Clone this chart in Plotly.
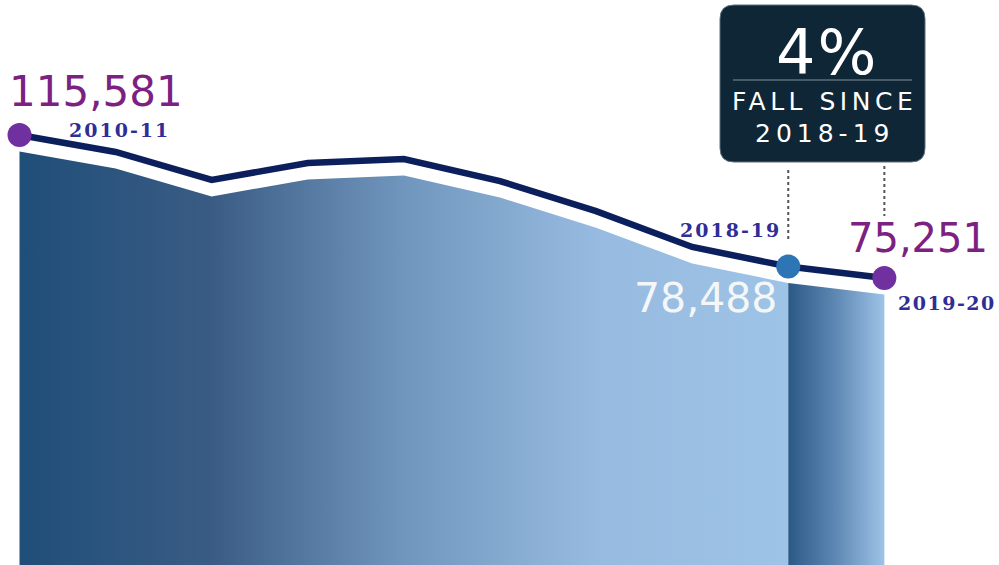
import plotly.graph_objects as go

years = ["2010-11", "2011-12", "2012-13", "2013-14", "2014-15",
         "2015-16", "2016-17", "2017-18", "2018-19", "2019-20"]
values = [115581, 110800, 102900, 107700, 108800,
          102600, 94100, 84000, 78488, 75251]
fall_pct = "4%"
fall_text = ["FALL SINCE", "2018-19"]

W, H = 999, 565
Y_TOP = 153651
Y_BOT = -5679
GAP = 4650          # white band between line and area (in value units)
BASE = -30000       # baseline below visible range

navy = "#0b1f5c"
purple = "#7b2182"
lblue = "#2e2e96"

def px(x):
    return x / W

def py(y):
    return 1 - y / H

fig = go.Figure()

# Main area (2010-11 .. 2018-19)
main_x = years[:9]
main_y = values[:9]
fig.add_trace(go.Scatter(x=main_x, y=[BASE] * len(main_x), mode="lines",
                         line=dict(width=0), yaxis="y2", hoverinfo="skip",
                         showlegend=False))
fig.add_trace(go.Scatter(x=main_x, y=main_y, mode="lines", line=dict(width=0),
                         fill="tonexty", yaxis="y2", hoverinfo="skip",
                         fillgradient=dict(type="horizontal", colorscale=[
                             [0.0, "#1f4e79"], [0.25, "#3a5c84"],
                             [0.5, "#7196bd"], [0.75, "#97bbe0"],
                             [1.0, "#9dc3e6"]]),
                         showlegend=False))

# Last-year area (2018-19 .. 2019-20)
last_x = years[8:]
last_y = values[8:]
fig.add_trace(go.Scatter(x=last_x, y=[BASE] * len(last_x), mode="lines",
                         line=dict(width=0), yaxis="y2", hoverinfo="skip",
                         showlegend=False))
fig.add_trace(go.Scatter(x=last_x, y=last_y, mode="lines", line=dict(width=0),
                         fill="tonexty", yaxis="y2", hoverinfo="skip",
                         fillgradient=dict(type="horizontal", colorscale=[
                             [0.0, "#2b5987"], [0.5, "#5f88b4"],
                             [1.0, "#9dc3e6"]]),
                         showlegend=False))

# Line
fig.add_trace(go.Scatter(x=years, y=values, mode="lines",
                         line=dict(color=navy, width=6.5), showlegend=False))

# Highlight markers
hl = [0, 8, 9]
hl_colors = ["#7030a0", "#2e75b6", "#7030a0"]
fig.add_trace(go.Scatter(x=[years[i] for i in hl], y=[values[i] for i in hl],
                         mode="markers",
                         marker=dict(size=24, color=hl_colors, line=dict(width=0)),
                         showlegend=False))

lab_font = dict(family="DejaVu Serif", size=19, color=lblue, weight="bold")
ls_lab = "letter-spacing:2px"

anns = []
# 2010-11 value + label
anns.append(dict(x=years[0], y=values[0], text=f"{values[0]:,}", showarrow=False,
                 xanchor="left", yanchor="middle", xshift=-13, yshift=44,
                 font=dict(family="DejaVu Sans", size=42, color=purple)))
anns.append(dict(x=years[0], y=values[0],
                 text=f'<span style="{ls_lab}">{years[0]}</span>',
                 showarrow=False, xanchor="center", yanchor="middle",
                 xshift=100, yshift=5, font=lab_font))
# 2018-19
anns.append(dict(x=years[8], y=values[8],
                 text=f'<span style="{ls_lab}">{years[8]}</span>',
                 showarrow=False, xanchor="center", yanchor="middle",
                 xshift=-58, yshift=37, font=lab_font))
anns.append(dict(x=years[8], y=values[8], text=f"{values[8]:,}", showarrow=False,
                 xanchor="center", yanchor="middle", xshift=-83, yshift=-31,
                 font=dict(family="DejaVu Sans", size=41, color="#f4f6f8")))
# 2019-20
anns.append(dict(x=years[9], y=values[9], text=f"{values[9]:,}", showarrow=False,
                 xanchor="center", yanchor="middle", xshift=34, yshift=40,
                 font=dict(family="DejaVu Sans", size=40, color=purple)))
anns.append(dict(x=years[9], y=values[9],
                 text=f'<span style="letter-spacing:1.5px">{years[9]}</span>',
                 showarrow=False, xanchor="left", yanchor="middle",
                 xshift=12, yshift=-25, font=lab_font))

# Callout box texts
anns.append(dict(xref="paper", yref="paper", x=px(827), y=py(52),
                 text=f'<span style="letter-spacing:2px">{fall_pct}</span>',
                 showarrow=False, xanchor="center", yanchor="middle",
                 font=dict(family="DejaVu Sans", size=62, color="white")))
anns.append(dict(xref="paper", yref="paper", x=px(824), y=py(101),
                 text=f'<span style="letter-spacing:4.5px">{fall_text[0]}</span>',
                 showarrow=False, xanchor="center", yanchor="middle",
                 font=dict(family="DejaVu Sans", size=25, color="white")))
anns.append(dict(xref="paper", yref="paper", x=px(824), y=py(134),
                 text=f'<span style="letter-spacing:5px">{fall_text[1]}</span>',
                 showarrow=False, xanchor="center", yanchor="middle",
                 font=dict(family="DejaVu Sans", size=25, color="white")))

# Rounded box path
x0, x1, y0, y1, r = 720, 925, 5, 162, 14
path = (f"M {px(x0 + r)} {py(y0)} L {px(x1 - r)} {py(y0)} "
        f"Q {px(x1)} {py(y0)} {px(x1)} {py(y0 + r)} "
        f"L {px(x1)} {py(y1 - r)} Q {px(x1)} {py(y1)} {px(x1 - r)} {py(y1)} "
        f"L {px(x0 + r)} {py(y1)} Q {px(x0)} {py(y1)} {px(x0)} {py(y1 - r)} "
        f"L {px(x0)} {py(y0 + r)} Q {px(x0)} {py(y0)} {px(x0 + r)} {py(y0)} Z")

shapes = [
    dict(type="path", xref="paper", yref="paper", path=path,
         fillcolor="#0f2636", line=dict(color="#5d6f7c", width=1)),
    dict(type="line", xref="paper", yref="paper", x0=px(733), x1=px(912),
         y0=py(80), y1=py(80), line=dict(color="#7f8e99", width=1)),
    dict(type="line", xref="x", yref="paper", x0=years[8], x1=years[8],
         y0=py(170), y1=py(240), line=dict(color="#555555", width=2, dash="dot")),
    dict(type="line", xref="x", yref="paper", x0=years[9], x1=years[9],
         y0=py(166), y1=py(216), line=dict(color="#555555", width=2, dash="dot")),
]

fig.update_layout(
    width=W, height=H,
    margin=dict(l=0, r=0, t=0, b=0),
    paper_bgcolor="white", plot_bgcolor="white",
    xaxis=dict(type="category", range=[-0.203, 10.193], visible=False,
               fixedrange=True),
    yaxis=dict(range=[Y_BOT, Y_TOP], visible=False, fixedrange=True),
    yaxis2=dict(range=[Y_BOT + GAP, Y_TOP + GAP], overlaying="y",
                visible=False, fixedrange=True),
    annotations=anns,
    shapes=shapes,
    showlegend=False,
)

fig.write_html(
    "out.html",
    config={"displayModeBar": False},
    post_script="document.body.style.margin='0';document.body.style.overflow='hidden';",
)
